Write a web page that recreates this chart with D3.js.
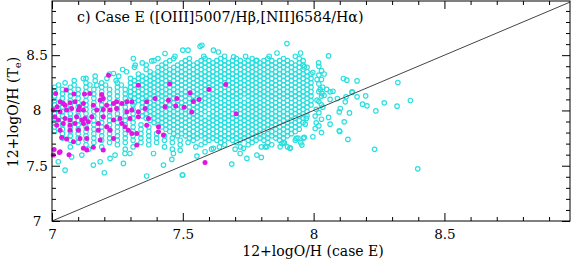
<!DOCTYPE html>
<html lang="en">
<head>
<meta charset="UTF-8">
<script src="https://d3js.org/d3.v7.min.js"></script>
<style>
  body { margin: 0; background: #fff; }
  text { font-family: "DejaVu Serif", serif; fill: #000; }
</style>
</head>
<body>
<svg width="574" height="261"></svg>
<script>
// tick labels
const xTicks = [7, 7.5, 8, 8.5];
const yTicks = [7, 7.5, 8, 8.5];

// cyan open circles, main cloud read row by row: [y, "x values"]
const cyanRows = [
  [8.49, "7.47 7.58 7.66 7.74 7.83 7.93"],
  [8.47, "7.405 7.465 7.525 7.585 7.645 7.705 7.765 7.825 7.885 7.945"],
  [8.45, "7.39 7.45 7.51 7.57 7.60 7.63 7.66 7.69 7.72 7.75 7.78 7.81 7.84 7.87 7.90 7.96"],
  [8.43, "7.345 7.435 7.495 7.525 7.555 7.585 7.615 7.645 7.675 7.705 7.735 7.765 7.795 7.825 7.855 7.885 7.915 7.945"],
  [8.41, "7.36 7.42 7.48 7.51 7.54 7.57 7.60 7.63 7.66 7.69 7.72 7.75 7.78 7.81 7.84 7.87 7.90 7.93 7.96"],
  [8.39, "7.315 7.405 7.435 7.465 7.495 7.525 7.555 7.585 7.615 7.645 7.675 7.705 7.735 7.765 7.795 7.825 7.855 7.885 7.915 7.945 7.975"],
  [8.37, "7.27 7.36 7.42 7.45 7.48 7.51 7.54 7.57 7.60 7.63 7.66 7.69 7.72 7.75 7.78 7.81 7.84 7.87 7.90 7.93 7.96"],
  [8.35, "7.285 7.375 7.405 7.435 7.465 7.495 7.525 7.555 7.585 7.615 7.645 7.675 7.705 7.735 7.765 7.795 7.825 7.855 7.885 7.915 7.945 7.975"],
  [8.33, "7.22 7.33 7.39 7.42 7.45 7.48 7.51 7.54 7.57 7.60 7.63 7.66 7.69 7.72 7.75 7.78 7.81 7.84 7.87 7.90 7.93 7.96 7.99"],
  [8.31, "7.165 7.255 7.345 7.375 7.405 7.435 7.465 7.495 7.525 7.555 7.585 7.615 7.645 7.675 7.705 7.735 7.765 7.795 7.825 7.855 7.885 7.915 7.945 7.975"],
  [8.29, "7.13 7.21 7.30 7.33 7.36 7.39 7.42 7.45 7.48 7.51 7.54 7.57 7.60 7.63 7.66 7.69 7.72 7.75 7.78 7.81 7.84 7.87 7.90 7.93 7.96 7.99"],
  [8.27, "7.085 7.165 7.245 7.315 7.345 7.375 7.405 7.435 7.465 7.495 7.525 7.555 7.585 7.615 7.645 7.675 7.705 7.735 7.765 7.795 7.825 7.855 7.885 7.915 7.945 7.975"],
  [8.25, "7.05 7.13 7.19 7.25 7.30 7.33 7.36 7.39 7.42 7.45 7.48 7.51 7.54 7.57 7.60 7.63 7.66 7.69 7.72 7.75 7.78 7.81 7.84 7.87 7.90 7.93 7.96 7.99"],
  [8.23, "7.025 7.085 7.145 7.205 7.265 7.315 7.345 7.375 7.405 7.435 7.465 7.495 7.525 7.555 7.585 7.615 7.645 7.675 7.705 7.735 7.765 7.795 7.825 7.855 7.885 7.915 7.945 7.975"],
  [8.21, "7.01 7.07 7.13 7.19 7.25 7.30 7.33 7.36 7.39 7.42 7.45 7.48 7.51 7.54 7.57 7.60 7.63 7.66 7.69 7.72 7.75 7.78 7.81 7.84 7.87 7.90 7.93 7.96 7.99"],
  [8.19, "7.04 7.10 7.16 7.22 7.28 7.315 7.345 7.375 7.405 7.435 7.465 7.495 7.525 7.555 7.585 7.615 7.645 7.675 7.705 7.735 7.765 7.795 7.825 7.855 7.885 7.915 7.945 7.975"],
  [8.17, "7.01 7.07 7.13 7.19 7.25 7.30 7.33 7.36 7.39 7.42 7.45 7.48 7.51 7.54 7.57 7.63 7.66 7.69 7.72 7.75 7.78 7.81 7.84 7.87 7.90 7.93 7.96 7.99"],
  [8.15, "7.04 7.10 7.16 7.22 7.28 7.315 7.345 7.375 7.405 7.435 7.465 7.495 7.525 7.555 7.585 7.615 7.645 7.675 7.705 7.735 7.765 7.795 7.825 7.855 7.885 7.915 7.945 7.975"],
  [8.13, "7.01 7.07 7.13 7.19 7.25 7.30 7.33 7.36 7.39 7.42 7.45 7.48 7.51 7.54 7.57 7.60 7.63 7.66 7.69 7.72 7.75 7.78 7.81 7.84 7.87 7.90 7.93 7.96 7.99"],
  [8.11, "7.04 7.10 7.16 7.22 7.28 7.315 7.345 7.375 7.405 7.435 7.465 7.495 7.525 7.555 7.585 7.615 7.645 7.675 7.705 7.765 7.795 7.825 7.855 7.885 7.915 7.945 7.975"],
  [8.09, "7.01 7.07 7.13 7.19 7.25 7.30 7.33 7.36 7.39 7.42 7.45 7.48 7.51 7.54 7.57 7.60 7.63 7.66 7.69 7.72 7.75 7.78 7.81 7.84 7.87 7.90 7.93 7.96 7.99"],
  [8.07, "7.04 7.10 7.16 7.22 7.28 7.315 7.345 7.375 7.405 7.435 7.465 7.495 7.525 7.555 7.585 7.615 7.645 7.675 7.705 7.735 7.765 7.795 7.825 7.855 7.885 7.915 7.945 7.975"],
  [8.05, "7.01 7.07 7.13 7.19 7.25 7.31 7.36 7.39 7.42 7.45 7.48 7.51 7.54 7.57 7.60 7.63 7.66 7.69 7.72 7.75 7.78 7.81 7.84 7.87 7.90 7.93 7.96 7.99"],
  [8.03, "7.04 7.10 7.16 7.22 7.28 7.345 7.375 7.405 7.435 7.465 7.495 7.525 7.555 7.585 7.615 7.645 7.675 7.705 7.735 7.765 7.795 7.825 7.855 7.885 7.915 7.945 7.975"],
  [8.01, "7.01 7.07 7.13 7.19 7.25 7.31 7.36 7.39 7.42 7.45 7.48 7.51 7.54 7.57 7.63 7.66 7.69 7.72 7.75 7.78 7.81 7.84 7.87 7.90 7.93 7.96"],
  [7.99, "7.04 7.10 7.16 7.22 7.28 7.345 7.375 7.405 7.435 7.465 7.495 7.525 7.555 7.585 7.615 7.645 7.675 7.705 7.735 7.765 7.795 7.825 7.855 7.885 7.915 7.945 7.975"],
  [7.97, "7.01 7.07 7.13 7.19 7.25 7.31 7.36 7.39 7.42 7.45 7.48 7.51 7.54 7.57 7.60 7.63 7.66 7.69 7.72 7.75 7.78 7.81 7.84 7.87 7.90 7.93 7.96"],
  [7.95, "7.04 7.10 7.16 7.22 7.28 7.345 7.375 7.405 7.435 7.465 7.495 7.525 7.555 7.615 7.645 7.675 7.705 7.735 7.765 7.795 7.825 7.855 7.885 7.915 7.945 7.975"],
  [7.93, "7.01 7.07 7.13 7.19 7.25 7.31 7.36 7.39 7.42 7.45 7.48 7.51 7.54 7.57 7.60 7.63 7.66 7.69 7.72 7.75 7.78 7.81 7.84 7.87 7.90 7.93 7.96"],
  [7.91, "7.04 7.10 7.16 7.22 7.28 7.375 7.405 7.435 7.465 7.495 7.525 7.555 7.585 7.615 7.645 7.675 7.705 7.735 7.765 7.795 7.825 7.855 7.885 7.915 7.945"],
  [7.89, "7.01 7.07 7.13 7.19 7.25 7.31 7.39 7.42 7.45 7.48 7.51 7.54 7.57 7.60 7.63 7.66 7.69 7.72 7.75 7.78 7.81 7.84 7.87 7.90 7.93 7.96"],
  [7.87, "7.04 7.10 7.16 7.22 7.28 7.34 7.405 7.435 7.465 7.495 7.525 7.555 7.585 7.615 7.645 7.675 7.705 7.735 7.765 7.795 7.825 7.855 7.885 7.915 7.945"],
  [7.85, "7.01 7.07 7.13 7.19 7.25 7.31 7.37 7.42 7.45 7.48 7.51 7.54 7.57 7.60 7.63 7.66 7.69 7.72 7.75 7.78 7.81 7.84 7.87 7.90 7.93"],
  [7.83, "7.04 7.10 7.16 7.22 7.28 7.34 7.435 7.465 7.495 7.525 7.555 7.585 7.615 7.645 7.675 7.705 7.735 7.765 7.795 7.825 7.855 7.885 7.915 7.945"],
  [7.81, "7.01 7.07 7.13 7.19 7.25 7.31 7.37 7.45 7.48 7.51 7.54 7.57 7.60 7.63 7.66 7.69 7.72 7.75 7.78 7.81 7.84 7.87 7.90 7.93"],
  [7.79, "7.04 7.10 7.16 7.22 7.28 7.34 7.40 7.465 7.495 7.525 7.555 7.585 7.615 7.645 7.675 7.705 7.735 7.765 7.795 7.825 7.855 7.885 7.915"],
  [7.77, "7.07 7.13 7.19 7.25 7.31 7.37 7.43 7.48 7.51 7.54 7.57 7.60 7.63 7.66 7.69 7.72 7.75 7.78 7.81 7.84 7.87 7.90"],
  [7.75, "7.04 7.10 7.16 7.22 7.28 7.34 7.40 7.46 7.525 7.555 7.585 7.615 7.645 7.675 7.705 7.735 7.765 7.795 7.825 7.855 7.885 7.94"],
  [7.73, "7.07 7.13 7.19 7.25 7.31 7.37 7.43 7.49 7.54 7.60 7.63 7.66 7.69 7.72 7.75 7.78 7.81 7.87 7.93"],
  [7.71, "7.10 7.16 7.22 7.28 7.34 7.40 7.46 7.52 7.585 7.645 7.705 7.765 7.825 7.885"],
  [7.69, "7.13 7.25 7.37 7.49 7.57 7.66 7.75 7.84"],
  [7.67, "7.07 7.19 7.31 7.43 7.55 7.64 7.72 7.80 7.90"],
  [7.65, "7.14 7.28 7.46 7.61 7.70"]
];

// cyan open circles outside the main cloud: [x, y]
const cyanOutliers = [
  [7.566, 8.58], [7.50, 8.545], [7.432, 8.515], [7.381, 8.448], [7.311, 8.47], [7.318, 8.41],
  [7.235, 8.334], [7.12, 8.289], [7.171, 8.229], [7.898, 8.605], [7.783, 8.454], [7.617, 8.545],
  [7.694, 8.484], [7.636, 8.529], [7.573, 8.59], [7.52, 8.545], [7.86, 8.52], [7.95, 8.52],
  [8.057, 8.493], [8.019, 8.43], [7.964, 8.394], [7.997, 8.343], [8.114, 8.289], [8.127, 8.274],
  [8.166, 8.267], [8.013, 8.28], [8.322, 8.253], [8.37, 8.09], [8.319, 8.039], [8.27, 8.069],
  [8.238, 7.996], [8.204, 8.042], [8.187, 8.057], [8.199, 8.132], [8.166, 8.123], [8.147, 8.163],
  [8.124, 8.123], [8.121, 8.078], [8.102, 8.018], [8.098, 7.987], [8.137, 7.978], [8.117, 7.897],
  [8.098, 7.816], [8.131, 7.738], [8.233, 7.648], [8.398, 7.472], [8.063, 8.168], [8.074, 8.174],
  [8.05, 8.19], [8.025, 8.19], [8.091, 8.108], [8.063, 8.10], [8.04, 8.135], [8.032, 8.154],
  [8.013, 8.093], [8.006, 7.949], [8.057, 7.937], [8.063, 7.876], [8.01, 7.888], [8.006, 7.837],
  [7.968, 7.876], [7.972, 7.928], [7.997, 7.762], [7.964, 7.756], [7.951, 7.707], [7.961, 7.75],
  [7.933, 7.747], [7.910, 7.662], [7.888, 7.707], [8.10, 7.81], [8.147, 8.168], [8.02, 8.24],
  [8.03, 8.05], [8.01, 8.01], [8.04, 8.33], [8.02, 8.40], [8.03, 8.36], [8.02, 8.32],
  [8.03, 8.28], [8.035, 8.21], [8.02, 8.17], [8.03, 8.13], [8.02, 8.08], [8.035, 8.03],
  [8.02, 7.98], [8.03, 7.92], [8.02, 7.86], [8.03, 7.80],
  [7.687, 7.515], [7.498, 7.416], [7.745, 7.566], [7.783, 7.596], [7.80, 7.575], [7.732, 7.657],
  [7.815, 7.671], [7.91, 7.657], [7.879, 7.702], [7.955, 7.687], [7.05, 7.46], [7.024, 7.536],
  [7.075, 7.58], [7.114, 7.596], [7.158, 7.506], [7.184, 7.536], [7.20, 7.436], [7.222, 7.566],
  [7.273, 7.521], [7.241, 7.596], [7.279, 7.611], [7.298, 7.611], [7.362, 7.407], [7.388, 7.611],
  [7.426, 7.506], [7.458, 7.557], [7.50, 7.416], [7.464, 7.611], [7.49, 7.641], [7.554, 7.587],
  [7.585, 7.626], [7.617, 7.657], [7.719, 7.611], [7.821, 7.671], [7.872, 7.671]
];

// magenta filled dots: [x, y]
const magentaPts = [
  [7.216, 8.319], [7.014, 8.153], [7.054, 8.184], [7.084, 8.148], [7.124, 8.148], [7.145, 8.154],
  [7.190, 8.145], [7.330, 8.229], [7.031, 8.078], [7.043, 8.063], [7.020, 8.033], [7.050, 8.048],
  [7.069, 8.069], [7.088, 8.078], [7.105, 8.033], [7.120, 8.063], [7.158, 8.048], [7.184, 8.093],
  [7.196, 8.108], [7.209, 8.048], [7.235, 8.063], [7.247, 8.078], [7.267, 8.063], [7.286, 8.078],
  [7.305, 8.078], [7.362, 8.078], [7.394, 8.108], [7.445, 8.093], [7.477, 8.108], [7.005, 8.003],
  [7.031, 7.988], [7.056, 8.003], [7.075, 8.018], [7.101, 8.003], [7.120, 8.003], [7.171, 8.003],
  [7.196, 8.009], [7.222, 8.003], [7.247, 8.018], [7.286, 7.988], [7.305, 8.003], [7.330, 7.988],
  [7.356, 8.018], [7.432, 8.033], [7.011, 7.943], [7.024, 7.913], [7.050, 7.928], [7.069, 7.913],
  [7.094, 7.943], [7.114, 7.913], [7.126, 7.928], [7.152, 7.943], [7.196, 7.943], [7.235, 7.913],
  [7.260, 7.928], [7.298, 7.928], [7.330, 7.943], [7.369, 7.928], [7.018, 7.867], [7.043, 7.883],
  [7.069, 7.867], [7.088, 7.883], [7.120, 7.883], [7.139, 7.898], [7.177, 7.883], [7.209, 7.852],
  [7.267, 7.883], [7.279, 7.852], [7.362, 7.867], [7.407, 7.852], [7.031, 7.822], [7.069, 7.822],
  [7.101, 7.822], [7.133, 7.837], [7.177, 7.822], [7.222, 7.822], [7.292, 7.822], [7.305, 7.792],
  [7.324, 7.792], [7.407, 7.807], [7.426, 7.777], [7.037, 7.756], [7.056, 7.741], [7.107, 7.747],
  [7.133, 7.747], [7.184, 7.732], [7.235, 7.747], [7.324, 7.687], [7.008, 7.647], [7.031, 7.626],
  [7.082, 7.717], [7.120, 7.657], [7.133, 7.642], [7.158, 7.666], [7.196, 7.642], [7.005, 7.596],
  [7.028, 7.62], [7.065, 7.60],
  [7.664, 8.235], [7.60, 8.19], [7.528, 8.16], [7.562, 8.10], [7.54, 8.08], [7.505, 8.03],
  [7.534, 7.985], [7.704, 7.97], [7.585, 7.53], [7.45, 8.24], [7.473, 8.04]
];

const svg = d3.select("svg");
const x = d3.scaleLinear().domain([7, 8.98]).range([52, 570]);
const y = d3.scaleLinear().domain([7, 8.99]).range([221, 1]);

const cyanPts = [];
cyanRows.forEach(r => r[1].split(" ").forEach(v => cyanPts.push([+v, r[0]])));
cyanOutliers.forEach(p => cyanPts.push(p));

const plot = svg.append("g");

plot.selectAll("circle.c")
  .data(cyanPts)
  .enter()
  .append("circle")
  .attr("class", "c")
  .attr("cx", d => x(d[0]))
  .attr("cy", d => y(d[1]))
  .attr("r", 2.25)
  .attr("fill", "none")
  .attr("stroke", "#28dfdf")
  .attr("stroke-width", 1.15);

plot.selectAll("circle.m")
  .data(magentaPts)
  .enter()
  .append("circle")
  .attr("class", "m")
  .attr("cx", d => x(d[0]))
  .attr("cy", d => y(d[1]))
  .attr("r", 2.5)
  .attr("fill", "#e016e0");

// one-to-one line
svg.append("line")
  .attr("x1", x(7)).attr("y1", y(7))
  .attr("x2", x(8.98)).attr("y2", y(8.98))
  .attr("stroke", "#444")
  .attr("stroke-width", 1);

// ticks on all four sides, pointing inward
const minor = d3.range(7.1, 8.95, 0.1).filter(v => Math.abs(v * 2 - Math.round(v * 2)) > 0.01);

function addAxis(axisFn, scale, transform, values, size, labels) {
  const a = axisFn(scale).tickValues(values).tickSize(-size).tickPadding(8);
  a.tickFormat(labels ? (d => String(d)) : "");
  const g = svg.append("g").attr("transform", transform).call(a);
  g.select(".domain").remove();
  g.selectAll("line").attr("stroke", "#000");
  return g;
}

const gx = addAxis(d3.axisBottom, x, "translate(0,221)", xTicks, 8, true);
addAxis(d3.axisBottom, x, "translate(0,221)", minor, 4, false);
addAxis(d3.axisTop, x, "translate(0,1)", xTicks, 8, false);
addAxis(d3.axisTop, x, "translate(0,1)", minor, 4, false);
const gy = addAxis(d3.axisLeft, y, "translate(52,0)", yTicks, 8, true);
addAxis(d3.axisLeft, y, "translate(52,0)", minor, 4, false);
addAxis(d3.axisRight, y, "translate(570,0)", yTicks, 8, false);
addAxis(d3.axisRight, y, "translate(570,0)", minor, 4, false);

gx.selectAll("text").attr("font-size", 13.5).attr("font-family", "DejaVu Serif");
gy.selectAll("text")
  .attr("font-size", 13.5)
  .attr("font-family", "DejaVu Serif")
  .attr("text-anchor", "middle")
  .attr("x", -15);

// frame
svg.append("rect")
  .attr("x", 52).attr("y", 1)
  .attr("width", 518).attr("height", 220)
  .attr("fill", "none")
  .attr("stroke", "#000")
  .attr("stroke-width", 1);

// title and axis labels
svg.append("text")
  .attr("x", 77).attr("y", 22)
  .attr("font-size", 14.2)
  .text("c) Case E ([OIII]5007/H\u03B2,[NII]6584/H\u03B1)");

svg.append("text")
  .attr("x", 313).attr("y", 256)
  .attr("text-anchor", "middle")
  .attr("font-size", 14)
  .text("12+logO/H (case E)");

const yl = svg.append("text")
  .attr("transform", "translate(18,112) rotate(-90)")
  .attr("text-anchor", "middle")
  .attr("font-size", 14);
yl.append("tspan").text("12+logO/H (T");
yl.append("tspan").attr("font-size", 10).attr("dy", 3).text("e");
yl.append("tspan").attr("dy", -3).text(")");
</script>
</body>
</html>
